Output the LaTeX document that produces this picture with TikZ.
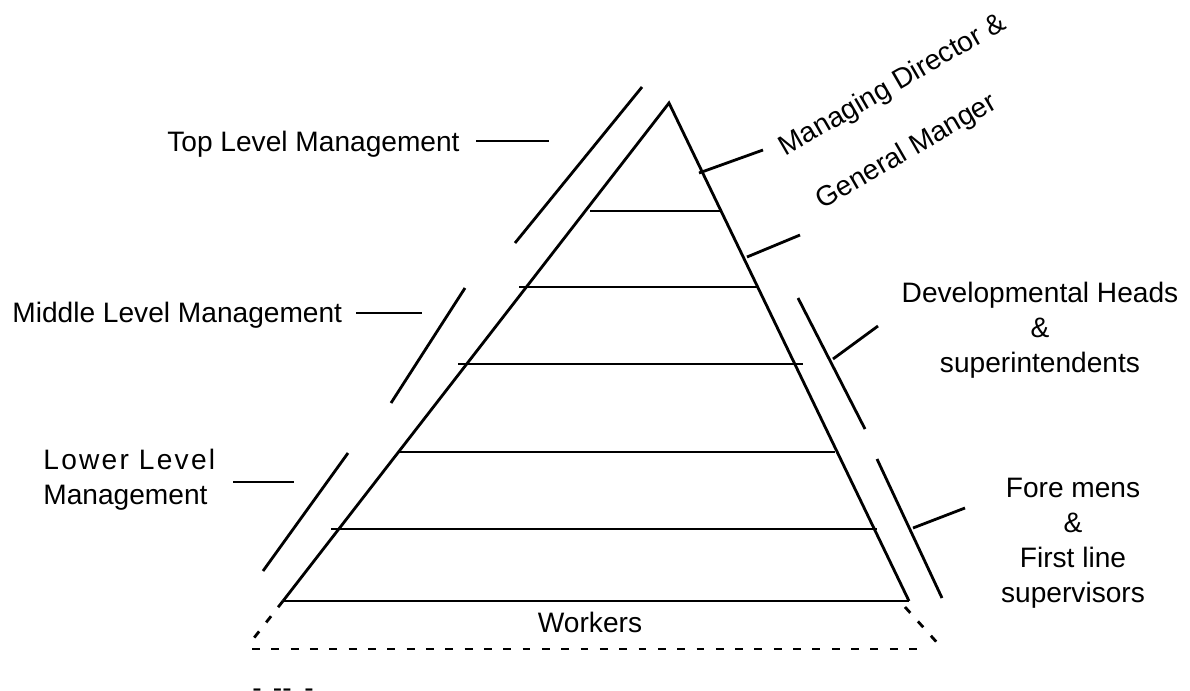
\documentclass[tikz,border=0pt]{standalone}
\usepackage{fontspec}
\setmainfont{Liberation Sans}
\begin{document}
\begin{tikzpicture}[x=0.02cm,y=-0.02cm,line width=1.6pt]
\useasboundingbox (0,0) rectangle (1190,690);
{\fontsize{16}{19.9}\selectfont

% Corner points of the pyramid
\coordinate (apex) at (669,103);
\coordinate (baseL) at (283,601);
\coordinate (baseR) at (909,601);

% Drawing sides and base of the pyramid
\draw (baseL) -- (apex) -- (baseR);
\draw (baseL) -- (baseR);

% Drawing the level lines
\draw (590,211) -- (721,211);
\draw (519,287) -- (759,287);
\draw (458,364) -- (803,364);
\draw (398,452) -- (835,452);
\draw (331,529) -- (877,529);

% Drawing the dashed part below the base
\draw [dash pattern=on 4.5pt off 6.5pt] (baseL) -- (250,643);
\draw [dash pattern=on 4.5pt off 6.5pt] (252,649) -- (920,649);
\draw [dash pattern=on 4.5pt off 6.5pt] (905,607) -- (941,647);

% Drawing the brackets on the left
\draw (642,87) -- (515,243);
\draw (465,288) -- (391,403);
\draw (348,453) -- (263,571);

% Drawing the brackets on the right
\draw (798,298) -- (865,429);
\draw (877,459) -- (942,598);

% Marking the left labels
\node (toplabel) [anchor=base east, inner sep=0pt] at (461,151) {Top Level Management};
\node (midlabel) [anchor=base west, inner sep=0pt] at (11,322) {Middle Level Management};
\node (lowlabel) [anchor=west, align=left, inner sep=0pt] at (42,480) {{\addfontfeature{LetterSpace=8}Lower Level}\\Management};

% Drawing the ticks of the left labels
\draw (476,141) coordinate (topA) -- (549,141) coordinate (topB);
\draw (356,313) coordinate (midA) -- (422,313) coordinate (midB);
\draw (233,482) coordinate (lowA) -- (294,482) coordinate (lowB);

% Marking the right labels
\node (md) [rotate=30, inner sep=0pt] at (893,86) {Managing Director \&};
\node (gm) [rotate=30, inner sep=0pt] at (907,152) {General Manger};
\node (dev) [align=center, inner sep=0pt] at (1040,330) {Developmental Heads\\\&\\superintendents};
\node (fore) [align=center, inner sep=0pt] at (1073,543) {Fore mens\\\&\\First line\\supervisors};

% Drawing the ticks of the right labels
\draw (699,173) coordinate (mdA) -- (763,150) coordinate (mdB);
\draw (747,257) coordinate (gmA) -- (800,235) coordinate (gmB);
\draw (833,359) coordinate (devA) -- (878,326) coordinate (devB);
\draw (913,528) coordinate (foreA) -- (965,508) coordinate (foreB);

% Marking the base label
\node (workers) [anchor=base, inner sep=0pt] at (590,632) {Workers};
\node (cut) [anchor=base west, inner sep=0pt] at (251,697) {-\hspace{.4em}-{}-\hspace{.45em}-};
}
\end{tikzpicture}
\end{document}
